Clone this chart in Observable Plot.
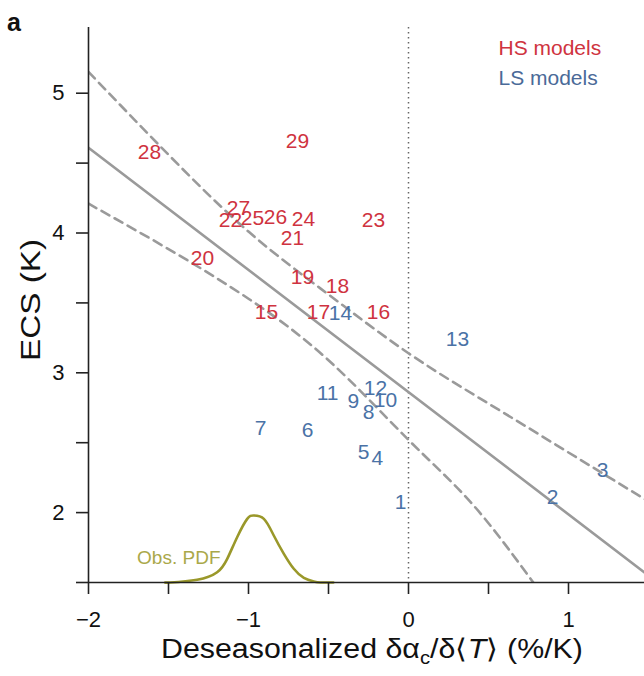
<!DOCTYPE html>
<html><head><meta charset="utf-8">
<script src="https://cdn.jsdelivr.net/npm/d3@7"></script>
<script src="https://cdn.jsdelivr.net/npm/@observablehq/plot@0.6"></script>
<style>body{margin:0;background:#fff;} svg{display:block}</style>
</head><body><div id="chart"></div>
<script>
// HS models (red)
const hsIds = [15, 16, 17, 18, 19, 20, 21, 22, 23, 24, 25, 26, 27, 28, 29];
const hsX = [-0.8875, -0.1875, -0.5625, -0.444, -0.6625, -1.2875, -0.725, -1.1125, -0.219, -0.656, -0.975, -0.831, -1.0625, -1.619, -0.694];
const hsY = [3.436, 3.436, 3.436, 3.622, 3.683, 3.819, 3.962, 4.091, 4.091, 4.098, 4.105, 4.112, 4.177, 4.578, 4.656];
// LS models (blue)
const lsIds = [1, 2, 3, 4, 5, 6, 7, 8, 9, 10, 11, 12, 13, 14];
const lsX = [-0.05, 0.9, 1.2125, -0.194, -0.281, -0.631, -0.925, -0.25, -0.344, -0.144, -0.506, -0.206, 0.306, -0.425];
const lsY = [2.072, 2.108, 2.301, 2.387, 2.430, 2.591, 2.606, 2.717, 2.795, 2.806, 2.856, 2.888, 3.239, 3.429];
// regression line
const fitX = [-2, 1.5];
const fitY = [4.61, 1.55];
// dashed envelope lines
const upperX = [-2, -1.5, -1, -0.5, 0, 0.5, 1, 1.5];
const upperY = [5.152, 4.56, 4.01, 3.56, 3.14, 2.78, 2.43, 2.08];
const lowerX = [-2, -1.5, -1, -0.5, 0, 0.4, 0.78];
const lowerY = [4.21, 3.885, 3.53, 3.09, 2.52, 2.06, 1.5];
// observed PDF
const pdfX = [-1.52, -1.4875, -1.321, -1.196, -1.133, -1.071, -1.008, -0.967, -0.904, -0.842, -0.779, -0.717, -0.654, -0.592, -0.55, -0.47];
const pdfY = [1.5, 1.5, 1.519, 1.573, 1.669, 1.824, 1.955, 1.979, 1.955, 1.836, 1.705, 1.598, 1.533, 1.507, 1.5, 1.5];
// ticks
const xTicks = [-2, -1.5, -1, -0.5, 0, 0.5, 1];
const yTicks = [1.5, 2, 2.5, 3, 3.5, 4, 4.5, 5];
const legendLabels = ["HS models", "LS models"];

const RED = "#cf3340", BLUE = "#4a72a6", GRAY = "#9a9a9a", OLIVE = "#9a982a";
const hs = hsIds.map((id, i) => ({id, x: hsX[i], y: hsY[i]}));
const ls = lsIds.map((id, i) => ({id, x: lsX[i], y: lsY[i]}));
const fit = fitX.map((x, i) => ({x, y: fitY[i]}));
const upper = upperX.map((x, i) => ({x, y: upperY[i]}));
const lower = lowerX.map((x, i) => ({x, y: lowerY[i]}));
const pdf = pdfX.map((x, i) => ({x, y: pdfY[i]}));
const fmt = d3.format("d");

const chart = Plot.plot({
  width: 644, height: 676,
  marginLeft: 88, marginRight: 0, marginTop: 27, marginBottom: 94,
  x: {domain: [-2, 1.475]},
  y: {domain: [1.5, 5.47]},
  style: {fontFamily: "Liberation Sans, Arial, sans-serif", background: "white", overflow: "visible"},
  marks: [
    Plot.ruleX([0], {stroke: "#666", strokeWidth: 1.5, strokeDasharray: "1.5,3.5"}),
    Plot.line(upper, {x: "x", y: "y", stroke: GRAY, strokeWidth: 2.6, strokeDasharray: "9,6", curve: "natural", clip: true}),
    Plot.line(lower, {x: "x", y: "y", stroke: GRAY, strokeWidth: 2.6, strokeDasharray: "9,6", curve: "natural", clip: true}),
    Plot.line(fit, {x: "x", y: "y", stroke: GRAY, strokeWidth: 2.6, clip: true}),
    Plot.line(pdf, {x: "x", y: "y", stroke: OLIVE, strokeWidth: 2.6, curve: "natural"}),
    Plot.text(["Obs. PDF"], {x: -1.175, y: 1.679, text: d => d, textAnchor: "end", fill: "#aaa84a", fontSize: 19}),
    Plot.text(hs, {x: "x", y: "y", text: "id", fill: RED, fontSize: 21}),
    Plot.text(ls, {x: "x", y: "y", text: "id", fill: BLUE, fontSize: 21}),
    Plot.text([legendLabels[0]], {frameAnchor: "top-left", textAnchor: "start", dx: 410, dy: 13, fill: RED, fontSize: 21}),
    Plot.text([legendLabels[1]], {frameAnchor: "top-left", textAnchor: "start", dx: 410, dy: 43, fill: "#4a6a98", fontSize: 21}),
    Plot.ruleY([1.5], {stroke: "#222", strokeWidth: 1.6}),
    Plot.ruleX([-2], {stroke: "#222", strokeWidth: 1.6}),
    Plot.axisX(xTicks, {tickSize: 12, tickPadding: 17, tickFormat: d => Number.isInteger(d) ? fmt(d) : "", fontSize: 22, label: null, stroke: "#222", strokeWidth: 1.6, fill: "#111"}),
    Plot.axisY(yTicks, {tickSize: 12, tickPadding: 12, tickFormat: d => Number.isInteger(d) ? fmt(d) : "", fontSize: 22, label: null, stroke: "#222", strokeWidth: 1.6, fill: "#111"})
  ]
});
document.getElementById("chart").appendChild(chart);

const svg = d3.select(chart);
const ff = "Liberation Sans, Arial, sans-serif";
// panel label
svg.append("text").attr("x", 14).attr("y", 31).attr("font-family", ff).attr("font-weight", "bold").attr("font-size", 25).attr("fill", "#111").text("a");
// y title
svg.append("text").attr("transform", "translate(40,300) rotate(-90)").attr("text-anchor", "middle")
  .attr("font-family", ff).attr("font-size", 28).attr("fill", "#111")
  .attr("textLength", 122).attr("lengthAdjust", "spacingAndGlyphs").text("ECS (K)");
// x title with subscript & italic
const xt = svg.append("text").attr("x", 372).attr("y", 658).attr("text-anchor", "middle")
  .attr("font-family", ff).attr("font-size", 27).attr("fill", "#111")
  .attr("textLength", 422).attr("lengthAdjust", "spacingAndGlyphs");
xt.append("tspan").text("Deseasonalized δα");
xt.append("tspan").attr("font-size", 18).attr("dy", 6).text("c");
xt.append("tspan").attr("dy", -6).text("/δ⟨");
xt.append("tspan").attr("font-style", "italic").text("T");
xt.append("tspan").text("⟩ (%/K)");
</script>
</body></html>
